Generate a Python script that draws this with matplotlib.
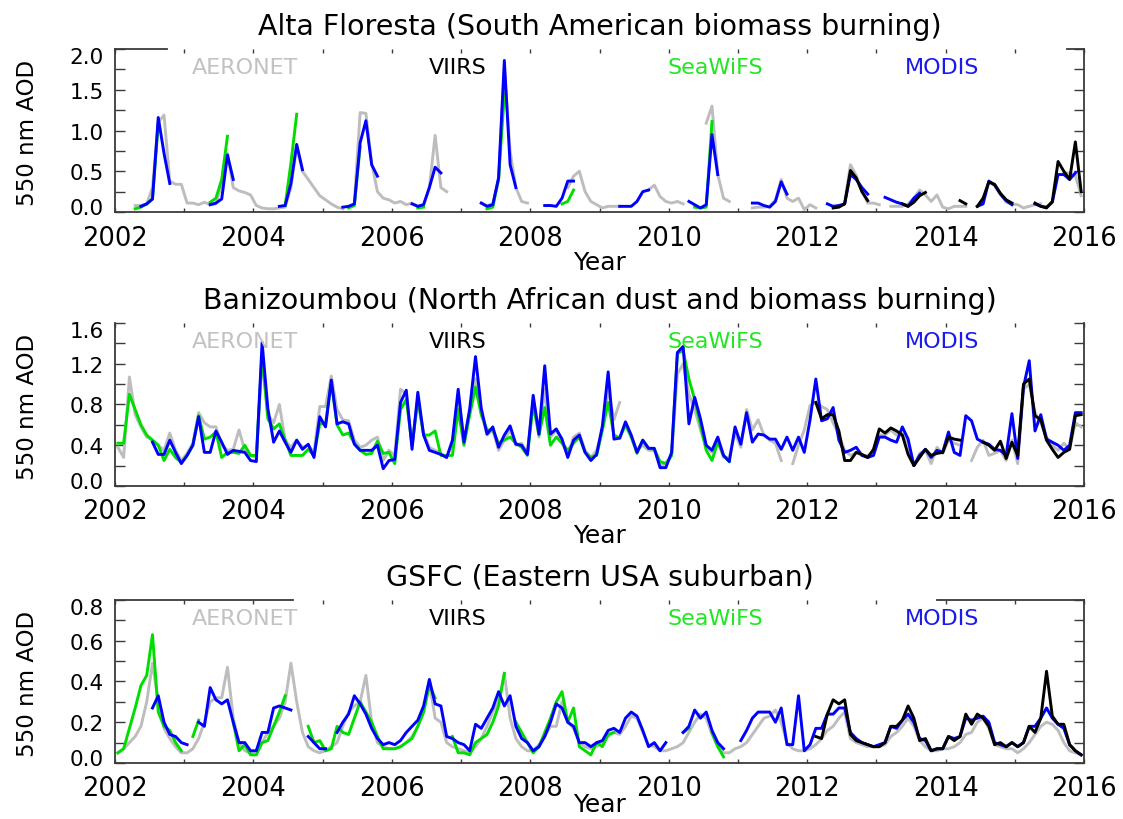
import numpy as np
import matplotlib
matplotlib.use("Agg")
import matplotlib.pyplot as plt
from matplotlib.ticker import MultipleLocator
from matplotlib.transforms import ScaledTranslation

plt.rcParams['font.family'] = ['DejaVu Sans']

nan = float('nan')

# ---------------- data: monthly 550 nm AOD, Jan 2002 .. Dec 2015 ----------------
start_year = 2002
n_months = 168

titles = ["Alta Floresta (South American biomass burning)",
          "Banizoumbou (North African dust and biomass burning)",
          "GSFC (Eastern USA suburban)"]
series_names = ["AERONET", "VIIRS", "SeaWiFS", "MODIS"]
year_ticks = [2002, 2004, 2006, 2008, 2010, 2012, 2014, 2016]

# ---- Alta Floresta ----
alta_aeronet = [
    nan, nan, nan, 0.08, 0.08, 0.10, 0.30, 1.10, 1.19, 0.38, 0.34, 0.34,
    0.11, 0.11, 0.09, 0.12, 0.09, 0.10, 0.35, 0.72, 0.30, 0.26, 0.24, 0.21,
    0.08, 0.05, 0.04, 0.04, 0.05, 0.06, 0.30, 0.80, 0.50, 0.40, 0.30, 0.20,
    0.15, 0.10, 0.06, 0.04, nan, 0.12, 1.22, 1.21, 0.60, 0.25, 0.17, 0.15,
    0.11, 0.13, 0.09, 0.11, 0.07, 0.09, 0.30, 0.94, 0.30, 0.25, nan, nan,
    nan, nan, nan, 0.11, 0.08, 0.10, 0.40, 1.75, 0.75, 0.30, 0.13, 0.11,
    nan, nan, nan, nan, nan, nan, 0.30, 0.44, 0.50, 0.25, 0.13, 0.09,
    0.05, 0.07, 0.07, 0.07, nan, nan, nan, nan, 0.27, 0.33, 0.19, 0.13,
    0.11, 0.13, 0.10, nan, nan, nan, 1.09, 1.30, 0.46, 0.17, 0.13, nan,
    nan, nan, 0.05, 0.06, 0.06, 0.07, 0.15, 0.40, 0.17, 0.13, 0.17, 0.03,
    0.09, 0.05, nan, nan, nan, nan, 0.12, 0.58, 0.45, 0.25, 0.11, 0.11,
    0.09, nan, 0.07, 0.07, 0.07, 0.10, 0.17, 0.27, 0.21, 0.13, 0.21, 0.06,
    0.04, 0.07, 0.07, 0.07, nan, nan, nan, 0.36, 0.33, 0.22, 0.12, 0.10,
    0.09, 0.05, 0.07, 0.09, 0.10, nan, nan, nan, 0.48, 0.48, 0.45, 0.20,
]
alta_viirs = [nan] * 120 + [
    nan, nan, nan, nan, 0.05, 0.06, 0.10, 0.51, 0.42, 0.25, 0.14, nan,
    nan, nan, nan, nan, 0.10, 0.07, 0.12, 0.20, 0.24, nan, nan, nan,
    nan, nan, 0.14, 0.10, nan, 0.07, 0.17, 0.37, 0.34, 0.23, 0.15, 0.11,
    nan, nan, nan, 0.11, 0.07, 0.05, 0.13, 0.62, 0.50, 0.40, 0.86, 0.25,
]
alta_seawifs = [
    nan, nan, nan, 0.04, 0.06, 0.10, 0.16, 1.08, nan, nan, nan, nan,
    nan, nan, nan, nan, 0.12, 0.17, 0.40, 0.93, nan, nan, nan, nan,
    nan, nan, nan, nan, nan, 0.08, 0.60, 1.20, nan, nan, nan, nan,
    nan, nan, nan, nan, 0.05, 0.08, 0.80, nan, nan, nan, nan, nan,
    nan, nan, nan, nan, 0.05, 0.06, nan, nan, nan, nan, nan, nan,
    nan, nan, nan, nan, 0.04, 0.06, 0.40, 1.45, nan, nan, nan, nan,
    nan, nan, nan, nan, nan, 0.10, 0.13, 0.27, nan, nan, nan, nan,
    nan, nan, nan, nan, nan, nan, nan, nan, nan, nan, nan, nan,
    nan, nan, nan, nan, 0.06, 0.05, 0.06, 1.11, nan, nan, nan, nan,
] + [nan] * 60
alta_modis = [
    nan, nan, nan, nan, 0.07, 0.10, 0.16, 1.16, 0.72, 0.35, nan, nan,
    nan, nan, nan, nan, 0.09, 0.11, 0.16, 0.70, 0.40, nan, nan, nan,
    nan, nan, nan, nan, 0.07, 0.08, 0.35, 0.83, 0.52, nan, nan, nan,
    nan, nan, nan, 0.06, 0.07, 0.10, 0.85, 1.12, 0.58, 0.44, nan, nan,
    nan, nan, nan, 0.10, 0.07, 0.09, 0.30, 0.55, 0.48, nan, nan, nan,
    nan, nan, nan, 0.11, 0.07, 0.09, 0.42, 1.86, 0.58, 0.30, nan, nan,
    nan, nan, 0.08, 0.08, 0.07, 0.17, 0.38, 0.38, nan, nan, nan, nan,
    nan, nan, nan, 0.07, 0.07, 0.07, 0.13, 0.25, 0.27, nan, nan, nan,
    nan, nan, nan, 0.13, 0.09, 0.05, 0.09, 0.95, 0.46, nan, nan, nan,
    nan, nan, 0.11, 0.11, 0.08, 0.06, 0.13, 0.37, 0.22, nan, nan, nan,
    nan, nan, nan, 0.10, 0.07, 0.08, 0.10, 0.46, 0.40, 0.30, 0.22, nan,
    nan, 0.18, 0.15, 0.12, 0.10, 0.07, 0.17, 0.23, nan, nan, nan, nan,
    nan, nan, nan, nan, nan, 0.07, 0.10, 0.38, 0.33, 0.22, 0.14, 0.09,
    nan, nan, nan, 0.10, 0.07, 0.06, 0.12, 0.46, 0.46, 0.40, 0.48, nan,
]

# ---- Banizoumbou ----
bani_aeronet = [
    0.38, 0.28, 1.07, 0.70, 0.58, 0.48, 0.45, 0.40, 0.35, 0.52, 0.35, 0.25,
    0.32, 0.42, 0.72, 0.62, 0.58, 0.58, 0.40, 0.35, 0.36, 0.55, 0.35, 0.30,
    0.28, 1.23, 0.70, 0.62, 0.80, 0.45, 0.38, 0.45, 0.38, 0.40, 0.33, 0.78,
    0.78, 1.08, 0.75, 0.65, 0.64, 0.45, 0.38, 0.40, 0.45, 0.48, 0.25, 0.35,
    0.30, 0.95, 0.90, 0.40, 0.85, 0.52, 0.38, 0.35, 0.32, 0.28, 0.40, 0.90,
    0.45, 0.72, 1.05, 0.72, 0.50, 0.55, 0.35, 0.45, 0.55, 0.40, 0.42, 0.32,
    0.85, 0.48, 0.95, 0.48, 0.55, 0.42, 0.30, 0.48, 0.52, 0.35, 0.28, 0.35,
    0.55, 0.95, 0.65, 0.82, nan, 0.48, 0.35, 0.40, 0.35, 0.35, 0.20, 0.22,
    0.30, 1.10, 1.20, 0.90, 0.75, 0.55, 0.38, 0.33, 0.45, 0.28, 0.28, 0.52,
    0.38, 0.75, 0.55, 0.65, 0.50, 0.45, 0.42, 0.25, nan, 0.22, 0.40, 0.55,
    0.79, 0.82, 0.78, 0.75, 0.62, 0.50, 0.35, 0.30, 0.33, 0.30, 0.30, 0.32,
    0.50, 0.50, 0.55, 0.50, 0.52, 0.42, 0.20, 0.32, 0.35, 0.22, 0.38, 0.32,
    0.45, 0.42, 0.40, nan, 0.25, 0.38, 0.45, 0.30, 0.32, 0.35, 0.25, 0.45,
    0.22, 0.95, 1.00, 0.72, 0.62, 0.48, 0.40, 0.35, 0.42, 0.36, 0.62, 0.58,
]
bani_viirs = [nan] * 120 + [
    nan, 0.82, 0.66, 0.70, 0.70, 0.54, 0.25, 0.25, 0.33, 0.31, 0.28, 0.36,
    0.56, 0.52, 0.57, 0.54, 0.50, 0.31, 0.20, 0.28, 0.36, 0.30, 0.32, 0.33,
    0.48, 0.46, 0.45, nan, nan, nan, 0.43, 0.40, 0.35, 0.44, 0.27, 0.43,
    0.30, 1.00, 1.05, 0.69, 0.65, 0.45, 0.36, 0.28, 0.33, 0.36, 0.69, 0.70,
]
bani_seawifs = [
    0.42, 0.42, 0.90, 0.75, 0.60, 0.50, 0.45, 0.40, 0.25, 0.36, 0.28, 0.23,
    0.30, 0.40, 0.69, 0.46, 0.48, 0.53, 0.28, 0.33, 0.33, 0.32, 0.40, 0.30,
    0.30, 1.30, 0.66, 0.56, 0.61, 0.45, 0.30, 0.30, 0.30, 0.36, 0.30, 0.61,
    0.61, 1.02, 0.60, 0.50, 0.52, 0.42, 0.35, 0.31, 0.32, 0.44, 0.32, 0.33,
    0.22, 0.75, 0.85, 0.40, 0.85, 0.50, 0.50, 0.54, 0.30, 0.30, 0.30, 0.75,
    0.40, 0.70, 0.97, 0.70, 0.55, 0.55, 0.42, 0.45, 0.48, 0.42, 0.38, 0.30,
    0.80, 0.50, 0.77, 0.40, 0.48, 0.42, 0.35, 0.42, 0.48, 0.33, 0.28, 0.30,
    0.55, 0.82, 0.50, 0.47, 0.60, 0.48, 0.32, 0.45, 0.37, 0.36, 0.24, 0.22,
    0.30, 1.30, 1.33, 1.05, 0.85, 0.60, 0.35, 0.25, 0.43, 0.30, 0.24, nan,
] + [nan] * 60
bani_modis = [
    nan, nan, nan, nan, nan, nan, 0.43, 0.31, 0.31, 0.45, 0.33, 0.22,
    0.30, 0.40, 0.68, 0.33, 0.33, 0.54, 0.43, 0.31, 0.35, 0.34, 0.33, 0.25,
    0.24, 1.41, 0.76, 0.43, 0.54, 0.43, 0.33, 0.45, 0.36, 0.41, 0.28, 0.68,
    0.58, 1.04, 0.61, 0.63, 0.61, 0.41, 0.35, 0.35, 0.35, 0.40, 0.17, 0.25,
    0.26, 0.82, 0.94, 0.36, 0.92, 0.50, 0.35, 0.33, 0.31, 0.28, 0.45, 0.95,
    0.43, 0.76, 1.27, 0.76, 0.51, 0.58, 0.38, 0.50, 0.59, 0.41, 0.40, 0.31,
    0.89, 0.51, 1.18, 0.51, 0.56, 0.46, 0.28, 0.45, 0.50, 0.33, 0.25, 0.31,
    0.59, 1.12, 0.46, 0.47, 0.63, 0.50, 0.33, 0.45, 0.37, 0.37, 0.18, 0.18,
    0.33, 1.31, 1.37, 0.61, 0.87, 0.66, 0.40, 0.35, 0.48, 0.30, 0.24, 0.58,
    0.41, 0.72, 0.43, 0.51, 0.50, 0.46, 0.46, 0.36, 0.48, 0.35, 0.48, 0.33,
    0.65, 1.05, 0.64, 0.66, 0.77, 0.45, 0.33, 0.35, 0.38, 0.30, 0.28, 0.30,
    0.48, 0.48, 0.45, 0.43, 0.58, 0.46, 0.20, 0.30, 0.36, 0.28, 0.35, 0.33,
    0.53, 0.33, 0.30, 0.69, 0.64, 0.46, 0.43, 0.41, 0.36, 0.35, 0.30, 0.71,
    0.27, 0.97, 1.23, 0.54, 0.70, 0.46, 0.43, 0.40, 0.35, 0.40, 0.72, 0.72,
]

# ---- GSFC ----
gsfc_aeronet = [
    0.05, 0.07, 0.10, 0.13, 0.18, 0.30, 0.49, 0.30, 0.17, 0.12, 0.08, 0.05,
    0.05, 0.07, 0.12, 0.20, 0.30, 0.32, 0.32, 0.47, 0.22, 0.10, 0.06, 0.05,
    0.06, 0.10, 0.15, 0.18, 0.22, 0.30, 0.49, 0.30, 0.15, 0.08, 0.06, 0.05,
    0.06, 0.08, 0.10, 0.18, 0.25, 0.28, 0.30, 0.43, 0.20, 0.10, 0.08, 0.07,
    0.07, 0.08, 0.10, 0.13, 0.18, 0.25, 0.40, 0.22, 0.20, 0.10, 0.08, 0.07,
    0.06, 0.05, 0.08, 0.12, 0.18, 0.25, 0.30, 0.44, 0.22, 0.12, 0.08, 0.06,
    0.06, 0.09, 0.13, 0.18, 0.18, 0.30, 0.20, 0.17, 0.10, 0.08, 0.07, 0.08,
    0.10, 0.13, 0.15, 0.14, 0.18, 0.23, 0.22, 0.15, 0.09, 0.08, 0.06, 0.06,
    0.07, 0.08, 0.10, 0.15, 0.20, 0.24, 0.22, 0.14, 0.08, 0.05, 0.05, 0.07,
    0.08, 0.10, 0.14, 0.18, 0.22, 0.23, 0.26, 0.20, 0.10, 0.07, 0.06, 0.06,
    0.07, 0.09, 0.12, 0.16, 0.18, 0.22, 0.25, 0.12, 0.10, 0.09, 0.08, 0.08,
    0.08, 0.09, 0.13, 0.15, 0.18, 0.22, 0.18, 0.11, 0.08, 0.06, 0.06, 0.07,
    0.07, 0.08, 0.10, 0.14, 0.15, 0.20, 0.22, 0.17, 0.09, 0.08, 0.07, 0.07,
    0.05, 0.07, 0.10, 0.14, 0.18, 0.20, 0.19, 0.16, 0.10, 0.06, 0.05, 0.04,
]
gsfc_viirs = [nan] * 120 + [
    nan, 0.13, 0.12, 0.24, 0.31, 0.29, 0.31, 0.14, 0.11, 0.10, 0.09, 0.08,
    0.08, 0.10, 0.18, 0.18, 0.21, 0.28, 0.22, 0.11, 0.12, 0.06, 0.07, 0.07,
    0.13, 0.11, 0.13, 0.24, 0.19, 0.24, 0.22, 0.18, 0.09, 0.10, 0.08, 0.10,
    0.08, 0.10, 0.18, 0.15, 0.22, 0.45, 0.23, 0.19, 0.19, 0.09, 0.06, 0.04,
]
gsfc_seawifs = [
    0.05, 0.07, 0.17, 0.27, 0.38, 0.43, 0.63, 0.25, 0.18, 0.16, 0.10, 0.06,
    nan, 0.13, 0.21, nan, nan, nan, nan, nan, 0.20, 0.06, 0.09, 0.04,
    0.04, 0.10, 0.11, 0.18, 0.25, 0.33, nan, nan, nan, 0.18, 0.10, 0.11,
    0.06, 0.07, 0.18, 0.15, 0.14, 0.22, 0.30, 0.25, 0.20, 0.13, 0.07, 0.07,
    0.07, 0.08, 0.10, 0.12, 0.18, 0.25, 0.38, 0.32, nan, nan, 0.13, 0.05,
    0.05, 0.04, 0.10, 0.12, 0.14, 0.20, 0.28, 0.44, nan, 0.20, 0.15, 0.10,
    0.05, 0.08, 0.15, 0.22, 0.30, 0.35, 0.20, 0.27, 0.08, 0.06, 0.04, 0.10,
    0.08, 0.14, 0.15, nan, nan, nan, nan, nan, nan, nan, nan, nan,
    nan, nan, 0.15, 0.17, nan, nan, nan, 0.15, 0.08, 0.03, nan, nan,
] + [nan] * 60
gsfc_modis = [
    nan, nan, nan, nan, nan, nan, 0.27, 0.33, 0.20, 0.14, 0.13, 0.10,
    0.09, nan, 0.20, 0.18, 0.37, 0.31, 0.29, 0.31, 0.20, 0.10, 0.10, 0.06,
    0.06, 0.15, 0.15, 0.27, 0.28, 0.27, 0.26, nan, nan, 0.13, 0.10, 0.07,
    0.07, nan, 0.15, 0.20, 0.24, 0.33, 0.29, 0.24, 0.17, 0.12, 0.09, 0.10,
    0.09, 0.11, 0.15, 0.18, 0.21, 0.28, 0.41, 0.29, 0.28, 0.13, 0.12, 0.10,
    0.09, 0.06, 0.19, 0.17, 0.22, 0.27, 0.35, 0.28, 0.33, 0.18, 0.12, 0.10,
    0.06, 0.08, 0.13, 0.20, 0.29, 0.27, 0.20, 0.18, 0.10, 0.10, 0.08, 0.10,
    0.11, 0.16, 0.17, 0.15, 0.22, 0.25, 0.23, 0.16, 0.08, 0.10, 0.06, 0.10,
    nan, nan, 0.15, 0.18, 0.26, 0.22, 0.25, 0.16, 0.10, 0.07, nan, nan,
    0.11, 0.16, 0.22, 0.25, 0.25, 0.25, 0.20, 0.27, 0.09, 0.09, 0.33, 0.06,
    0.09, 0.17, 0.17, 0.24, 0.24, 0.27, 0.27, 0.15, 0.12, 0.10, 0.09, 0.08,
    0.09, 0.10, 0.18, 0.17, 0.21, 0.24, 0.20, 0.12, 0.11, 0.06, 0.07, 0.07,
    0.13, 0.12, 0.13, 0.22, 0.21, 0.22, 0.23, 0.20, 0.10, 0.09, 0.08, 0.10,
    0.08, 0.10, 0.18, 0.18, 0.22, 0.27, 0.22, 0.19, 0.17, 0.09, 0.06, 0.04,
]

panels = [
    dict(aeronet=alta_aeronet, viirs=alta_viirs, seawifs=alta_seawifs, modis=alta_modis,
         ymax=2.0, ymajor=0.5, yfmt="{:.1f}"),
    dict(aeronet=bani_aeronet, viirs=bani_viirs, seawifs=bani_seawifs, modis=bani_modis,
         ymax=1.6, ymajor=0.4, yfmt="{:.1f}"),
    dict(aeronet=gsfc_aeronet, viirs=gsfc_viirs, seawifs=gsfc_seawifs, modis=gsfc_modis,
         ymax=0.8, ymajor=0.2, yfmt="{:.1f}"),
]

# ---------------- styling ----------------
line_col = {"AERONET": "#bdbdbd", "VIIRS": "#000000", "SeaWiFS": "#00dd00", "MODIS": "#0000ff"}
text_col = {"AERONET": "#c2c2c2", "VIIRS": "#000000", "SeaWiFS": "#22e622", "MODIS": "#1a1af0"}
label_x = {"AERONET": 0.134, "VIIRS": 0.354, "SeaWiFS": 0.619, "MODIS": 0.853}
spine_col = "#3a3a3a"
top_segments = [[(0.0, 0.054), (0.982, 1.0)], [], [(0.0, 0.184), (0.848, 1.0)]]
xlabel_y = [-0.23, -0.23, -0.178]

month_index = np.arange(n_months)
t = start_year + (month_index + 0.5) / 12.0

fig = plt.figure(figsize=(11.23, 8.20), dpi=100)
L, W, H = 0.1024, 0.8629, 0.1988
bottoms = [0.7402, 0.4061, 0.0683]

for k, p in enumerate(panels):
    ax = fig.add_axes([L, bottoms[k], W, H])
    for key, name in [("aeronet", "AERONET"), ("seawifs", "SeaWiFS"),
                      ("modis", "MODIS"), ("viirs", "VIIRS")]:
        ax.plot(t, np.array(p[key], dtype=float), color=line_col[name], lw=2.1,
                solid_joinstyle="round")
    ax.set_xlim(2002, 2016)
    ax.set_ylim(0, p["ymax"])

    ax.set_xticks(year_ticks)
    ax.set_xticklabels([str(y) for y in year_ticks])
    ax.xaxis.set_minor_locator(MultipleLocator(1))
    yt = np.arange(0, p["ymax"] + 1e-9, p["ymajor"])
    ax.set_yticks(yt)
    ax.set_yticklabels([p["yfmt"].format(v) for v in yt])
    ax.yaxis.set_minor_locator(MultipleLocator(p["ymajor"] / 2))

    ax.tick_params(axis="x", which="both", direction="in", length=3, width=1,
                   color=spine_col, bottom=True, top=True, labelsize=18.5, pad=9)
    ax.tick_params(axis="y", which="both", direction="in", length=7, width=1,
                   color=spine_col, left=True, right=True, labelsize=15.5, pad=8)
    labs = ax.get_yticklabels()
    labs[0].set_transform(labs[0].get_transform() +
                          ScaledTranslation(0, 4.5 / 72, fig.dpi_scale_trans))
    labs[-1].set_transform(labs[-1].get_transform() +
                           ScaledTranslation(0, -4.5 / 72, fig.dpi_scale_trans))

    for s in ["left", "right", "bottom"]:
        ax.spines[s].set_color(spine_col)
        ax.spines[s].set_linewidth(1.3)
    ax.spines["top"].set_visible(False)
    for seg in top_segments[k]:
        ax.plot(seg, [1, 1], transform=ax.transAxes, color=spine_col, lw=1.3,
                clip_on=False)

    ax.set_title(titles[k], fontsize=20.5, pad=11)
    ax.set_xlabel("Year", fontsize=18, va="top")
    ax.xaxis.set_label_coords(0.5, xlabel_y[k])
    ax.set_ylabel("550 nm AOD", fontsize=16.5)
    ax.yaxis.set_label_coords(-0.078, 0.49)

    for name in series_names:
        ax.text(label_x[name], 0.89, name, transform=ax.transAxes, ha="center",
                va="center", color=text_col[name], fontsize=16)

fig.savefig("out.png", dpi=100)
